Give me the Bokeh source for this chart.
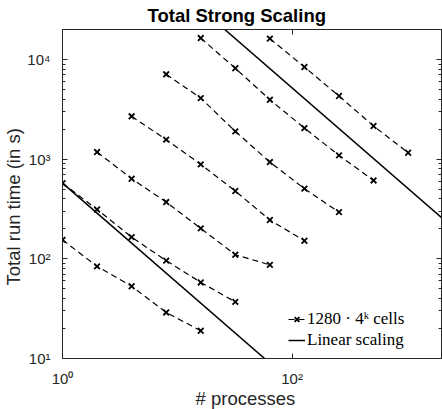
from bokeh.plotting import figure
from bokeh.models import (LogAxis, FixedTicker, CustomJSTickFormatter, Legend,
                          LegendItem, Title, Range1d)
from bokeh.embed import file_html
from bokeh.resources import INLINE

# ---- data ----
procs = [1, 2, 4, 8, 16, 32, 64, 128, 256, 512, 1024]
# index in `procs` of the first run of each problem size k
start_index = [0, 0, 1, 2, 3, 4, 6]
times_k0 = [155, 84, 53, 29, 19]
times_k1 = [575, 313, 165, 96, 58, 37]
times_k2 = [1178, 637, 371, 202, 110, 87]
times_k3 = [2690, 1570, 887, 479, 245, 152]
times_k4 = [7100, 4100, 1900, 935, 506, 294]
times_k5 = [16400, 8160, 3950, 2050, 1091, 612]
times_k6 = [16200, 8410, 4300, 2150, 1161]
all_times = [times_k0, times_k1, times_k2, times_k3, times_k4, times_k5, times_k6]

# ideal (linear) scaling reference points: (procs, time)
linear_ref_procs = [1, 32]
linear_ref_times = [575, 16200]
linear_x_span = [1, 2048]

x_ticks = [1, 100]
y_ticks = [10, 100, 1000, 10000]
y_minor = [m * 10 ** e for e in range(1, 5) for m in range(2, 10)]

title_text = "Total Strong Scaling"
x_label = "# processes"
y_label = "Total run time (in s)"
legend_labels = ["1280 \u00b7 4\u1d4f cells", "Linear scaling"]

AX = "#262626"

p = figure(width=442, height=409, x_axis_type="log", y_axis_type="log",
           x_range=Range1d(1, 2000), y_range=Range1d(10, 20000),
           output_backend="svg", toolbar_location=None, title=None,
           min_border_left=62, min_border_right=1, min_border_top=29,
           min_border_bottom=51)
p.grid.visible = False
p.outline_line_color = AX
p.outline_line_width = 1
p.background_fill_color = "white"
p.border_fill_color = "white"

sup_fmt = CustomJSTickFormatter(code="""
const e = Math.round(Math.log10(tick));
const sup = ['\u2070','\u00b9','\u00b2','\u00b3','\u2074','\u2075','\u2076','\u2077','\u2078','\u2079'];
return '10' + String(e).split('').map(d => sup[+d]).join('');
""")
blank_fmt = CustomJSTickFormatter(code="return '';")

xt = FixedTicker(ticks=x_ticks, minor_ticks=[])
yt = FixedTicker(ticks=y_ticks, minor_ticks=y_minor)


def style(ax):
    ax.axis_line_color = AX
    ax.major_tick_line_color = AX
    ax.minor_tick_line_color = AX
    ax.major_tick_in = 5
    ax.major_tick_out = 0
    ax.minor_tick_in = 3
    ax.minor_tick_out = 0
    ax.major_label_text_font = "Liberation Sans"
    ax.major_label_text_font_size = "15px"
    ax.major_label_text_color = AX


xa = p.xaxis[0]
xa.ticker = xt
xa.formatter = sup_fmt
style(xa)
xa.major_label_standoff = 11

ya = p.yaxis[0]
ya.ticker = yt
ya.formatter = sup_fmt
style(ya)
ya.major_label_standoff = 12

top = LogAxis(ticker=xt, formatter=blank_fmt)
style(top)
top.major_label_standoff = 0
top.major_label_text_font_size = "0px"
p.add_layout(top, "above")

right = LogAxis(ticker=yt, formatter=blank_fmt)
style(right)
right.major_label_standoff = 0
right.major_label_text_font_size = "0px"
p.add_layout(right, "right")

p.add_layout(Title(text=title_text, text_font="Liberation Sans",
                   text_font_size="18.5px", text_font_style="bold",
                   text_color="black", align="left", offset=85, standoff=5,
                   vertical_align="middle"),
             "above")

# axis titles as side-panel titles (outside the axes)
p.add_layout(Title(text=x_label, text_font="Liberation Sans",
                   text_font_size="18.5px", text_font_style="normal",
                   text_color=AX, align="left", offset=133, standoff=-7,
                   vertical_align="bottom"), "below")
p.add_layout(Title(text=y_label, text_font="Liberation Sans",
                   text_font_size="18.5px", text_font_style="normal",
                   text_color=AX, align="left", offset=73, standoff=0,
                   vertical_align="middle"), "left")

# ---- series ----
first_line = first_mark = None
for s, t in zip(start_index, all_times):
    xs = procs[s:s + len(t)]
    lr = p.line(xs, t, line_color="black", line_width=1.2, line_dash="6 4")
    mr = p.scatter(xs, t, marker="x", size=8, line_color="black", line_width=1.8)
    if first_line is None:
        first_line, first_mark = lr, mr

lin_r = None
for rp, rt in zip(linear_ref_procs, linear_ref_times):
    ys = [rt * rp / x for x in linear_x_span]
    r = p.line(linear_x_span, ys, line_color="black", line_width=1.5)
    if lin_r is None:
        lin_r = r

legend = Legend(items=[LegendItem(label=legend_labels[0],
                                  renderers=[first_line, first_mark]),
                       LegendItem(label=legend_labels[1], renderers=[lin_r])],
                location=(226, 8), padding=0, margin=0, spacing=1,
                glyph_width=17, glyph_height=20, label_height=20,
                label_standoff=2, border_line_alpha=0,
                background_fill_alpha=0, label_text_font="Liberation Serif",
                label_text_font_size="17px", label_text_color="black")
p.add_layout(legend, "center")

open("out.html", "w").write(file_html(p, INLINE))
